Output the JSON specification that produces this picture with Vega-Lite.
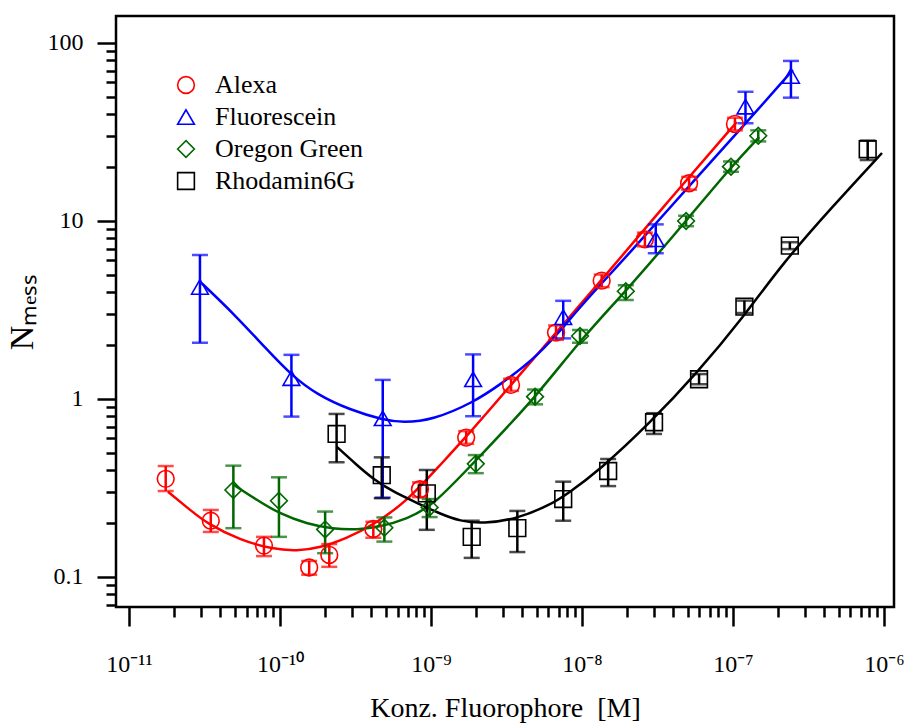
{
"$schema":"https://vega.github.io/schema/vega-lite/v6.json",
"width":778,"height":591,
"autosize":{"type":"none"},
"padding":{"left":116,"top":16,"right":10,"bottom":119},
"background":"white",
"config":{
 "view":{"stroke":"black","strokeWidth":2.5},
 "font":"Liberation Serif",
 "axis":{"labelFont":"Liberation Serif","titleFont":"Liberation Serif","labelColor":"black","titleColor":"black","tickColor":"black","tickWidth":2.5,"domain":false,"grid":false,"titleFontWeight":"normal","labelOverlap":false,"labelFlush":false,"labelBound":false}
},
"datasets":{
"points":[
{"series":"Alexa","x":1.75e-11,"y":0.356,"lo":0.304,"hi":0.42},
{"series":"Alexa","x":3.48e-11,"y":0.207,"lo":0.179,"hi":0.238},
{"series":"Alexa","x":7.83e-11,"y":0.150,"lo":0.131,"hi":0.168},
{"series":"Alexa","x":1.56e-10,"y":0.113,"lo":0.103,"hi":0.123},
{"series":"Alexa","x":2.12e-10,"y":0.133,"lo":0.114,"hi":0.153},
{"series":"Alexa","x":4.15e-10,"y":0.186,"lo":0.166,"hi":0.204},
{"series":"Alexa","x":8.45e-10,"y":0.311,"lo":0.281,"hi":0.340},
{"series":"Alexa","x":1.71e-9,"y":0.607,"lo":0.56,"hi":0.66},
{"series":"Alexa","x":3.39e-9,"y":1.20,"lo":1.11,"hi":1.30},
{"series":"Alexa","x":6.73e-9,"y":2.36,"lo":2.15,"hi":2.59},
{"series":"Alexa","x":1.35e-8,"y":4.62,"lo":4.25,"hi":5.0},
{"series":"Alexa","x":2.61e-8,"y":7.89,"lo":7.2,"hi":8.6},
{"series":"Alexa","x":5.12e-8,"y":16.3,"lo":15.0,"hi":17.7},
{"series":"Alexa","x":1.03e-7,"y":35.1,"lo":32.3,"hi":38.0},
{"series":"Fluorescein","x":2.95e-11,"y":4.26,"lo":2.07,"hi":6.44},
{"series":"Fluorescein","x":1.19e-10,"y":1.31,"lo":0.796,"hi":1.77},
{"series":"Fluorescein","x":4.79e-10,"y":0.779,"lo":0.279,"hi":1.28},
{"series":"Fluorescein","x":1.90e-9,"y":1.29,"lo":0.80,"hi":1.78},
{"series":"Fluorescein","x":7.51e-9,"y":2.88,"lo":2.19,"hi":3.56},
{"series":"Fluorescein","x":3.08e-8,"y":7.89,"lo":6.59,"hi":9.57},
{"series":"Fluorescein","x":1.21e-7,"y":43.9,"lo":35.4,"hi":53.2},
{"series":"Fluorescein","x":2.42e-7,"y":65.3,"lo":49.3,"hi":79.3},
{"series":"Oregon Green","x":4.91e-11,"y":0.308,"lo":0.188,"hi":0.422},
{"series":"Oregon Green","x":9.84e-11,"y":0.268,"lo":0.168,"hi":0.363},
{"series":"Oregon Green","x":1.99e-10,"y":0.185,"lo":0.136,"hi":0.233},
{"series":"Oregon Green","x":4.91e-10,"y":0.189,"lo":0.158,"hi":0.216},
{"series":"Oregon Green","x":9.79e-10,"y":0.246,"lo":0.217,"hi":0.274},
{"series":"Oregon Green","x":1.98e-9,"y":0.432,"lo":0.383,"hi":0.484},
{"series":"Oregon Green","x":4.89e-9,"y":1.03,"lo":0.933,"hi":1.13},
{"series":"Oregon Green","x":9.70e-9,"y":2.26,"lo":2.07,"hi":2.44},
{"series":"Oregon Green","x":1.95e-8,"y":4.03,"lo":3.60,"hi":4.36},
{"series":"Oregon Green","x":4.89e-8,"y":10.0,"lo":9.35,"hi":10.7},
{"series":"Oregon Green","x":9.70e-8,"y":20.2,"lo":18.9,"hi":21.6},
{"series":"Oregon Green","x":1.47e-7,"y":30.1,"lo":28.0,"hi":32.3},
{"series":"Rhodamin6G","x":2.37e-10,"y":0.636,"lo":0.441,"hi":0.824},
{"series":"Rhodamin6G","x":4.72e-10,"y":0.373,"lo":0.277,"hi":0.470},
{"series":"Rhodamin6G","x":9.38e-10,"y":0.295,"lo":0.184,"hi":0.399},
{"series":"Rhodamin6G","x":1.86e-9,"y":0.168,"lo":0.128,"hi":0.207},
{"series":"Rhodamin6G","x":3.73e-9,"y":0.188,"lo":0.138,"hi":0.235},
{"series":"Rhodamin6G","x":7.51e-9,"y":0.274,"lo":0.207,"hi":0.343},
{"series":"Rhodamin6G","x":1.49e-8,"y":0.394,"lo":0.324,"hi":0.460},
{"series":"Rhodamin6G","x":3.00e-8,"y":0.740,"lo":0.636,"hi":0.832},
{"series":"Rhodamin6G","x":5.96e-8,"y":1.29,"lo":1.21,"hi":1.38},
{"series":"Rhodamin6G","x":1.19e-7,"y":3.30,"lo":3.04,"hi":3.57},
{"series":"Rhodamin6G","x":2.38e-7,"y":7.27,"lo":6.95,"hi":7.6},
{"series":"Rhodamin6G","x":7.80e-7,"y":25.3,"lo":22.0,"hi":28.3}
],
"curves":[
{"series":"Alexa","x":1.81e-11,"y":0.301},
{"series":"Alexa","x":2.54e-11,"y":0.238},
{"series":"Alexa","x":3.27e-11,"y":0.200},
{"series":"Alexa","x":5.43e-11,"y":0.161},
{"series":"Alexa","x":9.04e-11,"y":0.143},
{"series":"Alexa","x":1.29e-10,"y":0.140},
{"series":"Alexa","x":1.84e-10,"y":0.146},
{"series":"Alexa","x":2.77e-10,"y":0.165},
{"series":"Alexa","x":4.15e-10,"y":0.196},
{"series":"Alexa","x":6.90e-10,"y":0.265},
{"series":"Alexa","x":1.15e-9,"y":0.426},
{"series":"Alexa","x":1.71e-9,"y":0.612},
{"series":"Alexa","x":3.39e-9,"y":1.20},
{"series":"Alexa","x":6.73e-9,"y":2.36},
{"series":"Alexa","x":1.35e-8,"y":4.66},
{"series":"Alexa","x":3.8e-8,"y":13.2},
{"series":"Alexa","x":1.06e-7,"y":36.0},
{"series":"Fluorescein","x":3.03e-11,"y":4.47},
{"series":"Fluorescein","x":4.91e-11,"y":3.03},
{"series":"Fluorescein","x":8.17e-11,"y":1.90},
{"series":"Fluorescein","x":1.19e-10,"y":1.36},
{"series":"Fluorescein","x":1.75e-10,"y":1.06},
{"series":"Fluorescein","x":2.91e-10,"y":0.868},
{"series":"Fluorescein","x":4.83e-10,"y":0.762},
{"series":"Fluorescein","x":6.53e-10,"y":0.736},
{"series":"Fluorescein","x":1.03e-9,"y":0.762},
{"series":"Fluorescein","x":1.90e-9,"y":0.955},
{"series":"Fluorescein","x":2.86e-9,"y":1.20},
{"series":"Fluorescein","x":4.73e-9,"y":1.66},
{"series":"Fluorescein","x":6.82e-9,"y":2.29},
{"series":"Fluorescein","x":1.02e-8,"y":3.46},
{"series":"Fluorescein","x":1.99e-8,"y":6.36},
{"series":"Fluorescein","x":6.04e-8,"y":18.4},
{"series":"Fluorescein","x":1.24e-7,"y":36.0},
{"series":"Fluorescein","x":2.49e-7,"y":70.5},
{"series":"Oregon Green","x":4.95e-11,"y":0.329},
{"series":"Oregon Green","x":7.01e-11,"y":0.271},
{"series":"Oregon Green","x":1.0e-10,"y":0.226},
{"series":"Oregon Green","x":1.50e-10,"y":0.199},
{"series":"Oregon Green","x":2.24e-10,"y":0.186},
{"series":"Oregon Green","x":3.24e-10,"y":0.184},
{"series":"Oregon Green","x":4.59e-10,"y":0.191},
{"series":"Oregon Green","x":6.93e-10,"y":0.212},
{"series":"Oregon Green","x":1.03e-9,"y":0.251},
{"series":"Oregon Green","x":1.99e-9,"y":0.454},
{"series":"Oregon Green","x":4.89e-9,"y":1.01},
{"series":"Oregon Green","x":9.70e-9,"y":2.14},
{"series":"Oregon Green","x":1.99e-8,"y":4.10},
{"series":"Oregon Green","x":4.89e-8,"y":10.0},
{"series":"Oregon Green","x":9.70e-8,"y":20.1},
{"series":"Oregon Green","x":1.49e-7,"y":29.6},
{"series":"Rhodamin6G","x":2.37e-10,"y":0.540},
{"series":"Rhodamin6G","x":3.22e-10,"y":0.426},
{"series":"Rhodamin6G","x":4.13e-10,"y":0.356},
{"series":"Rhodamin6G","x":5.60e-10,"y":0.301},
{"series":"Rhodamin6G","x":8.07e-10,"y":0.261},
{"series":"Rhodamin6G","x":1.15e-9,"y":0.226},
{"series":"Rhodamin6G","x":1.56e-9,"y":0.206},
{"series":"Rhodamin6G","x":2.21e-9,"y":0.199},
{"series":"Rhodamin6G","x":3.72e-9,"y":0.212},
{"series":"Rhodamin6G","x":6.14e-9,"y":0.254},
{"series":"Rhodamin6G","x":7.96e-9,"y":0.292},
{"series":"Rhodamin6G","x":1.31e-8,"y":0.399},
{"series":"Rhodamin6G","x":2.82e-8,"y":0.733},
{"series":"Rhodamin6G","x":5.78e-8,"y":1.40},
{"series":"Rhodamin6G","x":1.16e-7,"y":2.85},
{"series":"Rhodamin6G","x":2.14e-7,"y":5.81},
{"series":"Rhodamin6G","x":4.5e-7,"y":11.9},
{"series":"Rhodamin6G","x":9.70e-7,"y":24.1}
]
},
"layer":[
{
 "data":{"name":"curves"},
 "mark":{"type":"line","strokeWidth":2.5,"interpolate":"basis","clip":true},
 "encoding":{
  "x":{"field":"x","type":"quantitative","scale":{"type":"log","domain":[8.2e-12,1.165e-6],"nice":false},
   "axis":{"title":"Konz. Fluorophore \u00a0[M]","titleFontSize":28,"titlePadding":18,"labelFontSize":24,"labelPadding":26,
    "values":[1e-11,2e-11,3e-11,4e-11,5e-11,6e-11,7e-11,8e-11,9e-11,1e-10,2e-10,3e-10,4e-10,5e-10,6e-10,7e-10,8e-10,9e-10,1e-9,2e-9,3e-9,4e-9,5e-9,6e-9,7e-9,8e-9,9e-9,1e-8,2e-8,3e-8,4e-8,5e-8,6e-8,7e-8,8e-8,9e-8,1e-7,2e-7,3e-7,4e-7,5e-7,6e-7,7e-7,8e-7,9e-7,1e-6],
    "tickSize":{"condition":{"test":"abs(log(datum.value)/LN10 - round(log(datum.value)/LN10)) < 0.001","value":19},"value":10},
    "labelExpr":"abs(log(datum.value)/LN10 - round(log(datum.value)/LN10)) < 0.001 ? (datum.value < 5e-11 ? '10⁻¹¹' : datum.value < 5e-10 ? '10⁻¹⁰' : datum.value < 5e-9 ? '10⁻⁹' : datum.value < 5e-8 ? '10⁻⁸' : datum.value < 5e-7 ? '10⁻⁷' : '10⁻⁶') : ''"}},
  "y":{"field":"y","type":"quantitative","scale":{"type":"log","domain":[0.0678,141.8],"nice":false},
   "axis":{"title":"Nₘₑₛₛ","titleFontSize":34,"titlePadding":8,"labelFontSize":24,"labelPadding":14,
    "values":[0.07,0.08,0.09,0.1,0.2,0.3,0.4,0.5,0.6,0.7,0.8,0.9,1,2,3,4,5,6,7,8,9,10,20,30,40,50,60,70,80,90,100],
    "tickSize":{"condition":{"test":"abs(log(datum.value)/LN10 - round(log(datum.value)/LN10)) < 0.001","value":19},"value":10},
    "labelExpr":"abs(log(datum.value)/LN10 - round(log(datum.value)/LN10)) < 0.001 ? (datum.value < 0.5 ? '0.1' : datum.value < 5 ? '1' : datum.value < 50 ? '10' : '100') : ''"}},
  "stroke":{"field":"series","type":"nominal","scale":{"domain":["Rhodamin6G","Oregon Green","Fluorescein","Alexa"],"range":["#000000","#006600","#0000ff","#ff0000"]},"legend":null},
  "detail":{"field":"series"}
 }
},
{
 "data":{"name":"points"},
 "mark":{"type":"rule","strokeWidth":2.5},
 "encoding":{
  "x":{"field":"x","type":"quantitative"},
  "y":{"field":"lo","type":"quantitative"},
  "y2":{"field":"hi"},
  "stroke":{"field":"series","type":"nominal","scale":{"domain":["Rhodamin6G","Oregon Green","Fluorescein","Alexa"],"range":["#000000","#006600","#0000ff","#ff0000"]},"legend":null}
 }
},
{
 "data":{"name":"points"},
 "mark":{"type":"tick","orient":"horizontal","size":16,"thickness":2.5},
 "encoding":{
  "x":{"field":"x","type":"quantitative"},
  "y":{"field":"lo","type":"quantitative"},
  "fill":{"field":"series","type":"nominal","scale":{"domain":["Rhodamin6G","Oregon Green","Fluorescein","Alexa"],"range":["#000000","#006600","#0000ff","#ff0000"]},"legend":null}
 }
},
{
 "data":{"name":"points"},
 "mark":{"type":"tick","orient":"horizontal","size":16,"thickness":2.5},
 "encoding":{
  "x":{"field":"x","type":"quantitative"},
  "y":{"field":"hi","type":"quantitative"},
  "fill":{"field":"series","type":"nominal","scale":{"domain":["Rhodamin6G","Oregon Green","Fluorescein","Alexa"],"range":["#000000","#006600","#0000ff","#ff0000"]},"legend":null}
 }
},
{
 "data":{"name":"points"},
 "mark":{"type":"point","filled":false,"strokeWidth":1.6,"size":280,"opacity":1},
 "encoding":{
  "x":{"field":"x","type":"quantitative"},
  "y":{"field":"y","type":"quantitative"},
  "color":{"field":"series","type":"nominal","scale":{"domain":["Alexa","Fluorescein","Oregon Green","Rhodamin6G"],"range":["#ff0000","#0000ff","#006600","#000000"]},
   "legend":{"orient":"none","legendX":57,"legendY":56,"direction":"vertical","title":null,"labelFont":"Liberation Serif","labelFontSize":26,"labelColor":"black","symbolSize":280,"symbolStrokeWidth":1.6,"rowPadding":6,"labelOffset":16,"padding":0,"labelLimit":400}},
  "shape":{"field":"series","type":"nominal","scale":{"domain":["Alexa","Fluorescein","Oregon Green","Rhodamin6G"],"range":["circle","triangle-up","diamond","square"]},
   "legend":{"orient":"none","legendX":57,"legendY":56,"direction":"vertical","title":null,"labelFont":"Liberation Serif","labelFontSize":26,"labelColor":"black","symbolSize":280,"symbolStrokeWidth":1.6,"rowPadding":6,"labelOffset":16,"padding":0,"labelLimit":400}}
 }
}
]
}
